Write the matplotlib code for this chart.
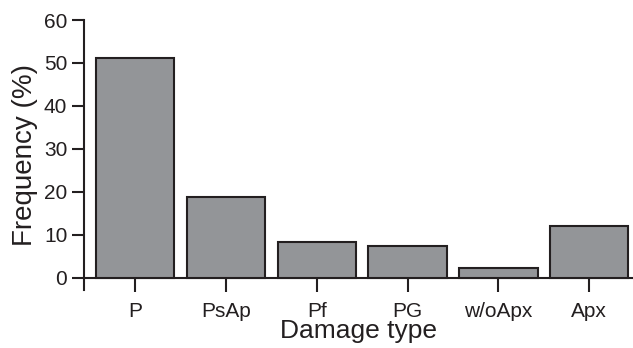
import matplotlib
matplotlib.use("Agg")
import matplotlib.pyplot as plt

categories = ["P", "PsAp", "Pf", "PG", "w/oApx", "Apx"]
frequency = [51.2, 18.8, 8.3, 7.4, 2.4, 12.2]
yticks = [0, 10, 20, 30, 40, 50, 60]

plt.rcParams['font.family'] = ['Liberation Sans', 'DejaVu Sans']
ink = '#231f20'

fig = plt.figure(figsize=(6.33, 3.48), dpi=100)
ax = fig.add_axes([84/633, (348-290)/348, (633-84)/633, (290-20)/348])

x = list(range(len(categories)))
ax.bar(x, frequency, width=0.86, color='#939598', edgecolor=ink, linewidth=1.5, zorder=3)

ax.set_xlim(-0.56, 5.48)
ax.set_ylim(-2.8, 60)
ax.spines['top'].set_visible(False)
ax.spines['right'].set_visible(False)
ax.spines['bottom'].set_position(('data', 0))
for s in ('left', 'bottom'):
    ax.spines[s].set_linewidth(1.5)
    ax.spines[s].set_color(ink)
ax.spines['left'].set_bounds(-2.8, 60)

ax.set_yticks(yticks)
ax.set_xticks(x)
ax.set_xticklabels(categories)
ax.tick_params(axis='both', direction='out', width=1.5, color=ink, labelsize=15, labelcolor=ink)
ax.tick_params(axis='y', length=9, pad=3)
ax.tick_params(axis='x', length=10, pad=7)

ax.set_ylabel('Frequency (%)', fontsize=20, color=ink, labelpad=4)
ax.set_xlabel('Damage type', fontsize=19, color=ink, labelpad=-1)

fig.savefig('out.png', dpi=100)
